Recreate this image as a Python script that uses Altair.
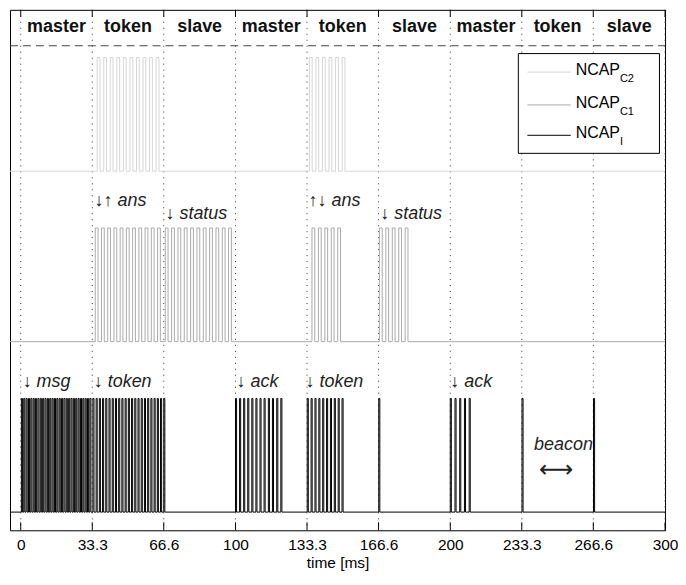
import altair as alt
import pandas as pd

# ---------------- data ----------------
TICKS = [0, 33.3, 66.6, 100, 133.3, 166.6, 200, 233.3, 266.6, 300]
PHASES = ["master", "token", "slave", "master", "token", "slave", "master", "token", "slave"]

SERIES = ["C2", "C1", "I"]
# pulse start times [ms]
NCAP_C2_PULSES = [35.6, 38.65, 41.7, 44.75, 47.8, 50.85, 53.9, 56.95, 60.0, 63.05,
                  134.4, 137.45, 140.5, 143.55, 146.6, 149.65]
NCAP_C1_PULSES = [34.7, 37.6, 40.5, 43.4, 46.3, 49.2, 52.1, 55.0, 57.9, 60.8, 63.7,
                  67.3, 70.25, 73.2, 76.15, 79.1, 82.05, 85.0, 87.95, 90.9, 93.85, 96.8,
                  135.6, 138.6, 141.6, 144.6, 147.6,
                  167.0, 170.0, 173.0, 176.0, 179.0]
NCAP_I_PULSES = [0.3, 1.4, 2.5, 3.6, 4.7, 5.8, 6.9, 8.0, 9.1, 10.2, 11.3, 12.4, 13.5, 14.6, 15.7,
                 16.8, 17.9, 19.0, 20.1, 21.2, 22.3, 23.4, 24.5, 25.6, 26.7, 27.8, 28.9, 30.0, 31.1, 32.2,
                 33.6, 35.1, 36.6, 38.1, 39.6, 41.1, 42.6, 44.1, 45.6, 47.1, 48.6, 50.1, 51.6, 53.1,
                 54.6, 56.1, 57.6, 59.1, 60.6, 62.1, 63.6, 65.1, 66.6,
                 100.0, 101.9, 103.8, 105.7, 107.6, 109.5, 111.4, 113.3, 115.3, 117.2, 119.2, 121.1,
                 133.4, 135.2, 137.0, 138.8, 140.6, 142.4, 144.2, 146.0, 147.8, 149.6,
                 166.7,
                 200.0, 202.2, 204.4, 206.6, 208.8,
                 233.4, 266.7]
PULSE_WIDTH = {"C2": 1.3, "C1": 1.3, "I": 0.5}
BASE_LEVEL = {"C2": 3.0, "C1": 1.5, "I": 0.0}
PULSES = {"C2": NCAP_C2_PULSES, "C1": NCAP_C1_PULSES, "I": NCAP_I_PULSES}

ANNOT_TEXT = ["↓ msg", "↓ token", "↓ ack", "↓ token", "↓ ack",
              "↓↑ ans", "↓ status", "↑↓ ans", "↓ status", "beacon"]
ANNOT_X = [0.9, 34.0, 100.5, 132.6, 200.0, 34.4, 67.4, 134.0, 167.4, 239.0]
ANNOT_Y = [1.148, 1.148, 1.148, 1.148, 1.148, 2.739, 2.626, 2.739, 2.626, 0.591]
BEACON_ARROW = "⟷"
BEACON_ARROW_X = 241.3
BEACON_ARROW_Y = 0.374

LEGEND_SUB = ["C2", "C1", "I"]
COLORS = ["#d6d6d6", "#ababab", "#000000"]

# ---------------- layout ----------------
XDOM = [-5, 300]
YDOM = [-0.16, 4.42]
W, H = 657, 522
FONT = "Liberation Sans, DejaVu Sans, sans-serif"
xs = alt.Scale(domain=XDOM, nice=False, zero=False)
ys = alt.Scale(domain=YDOM, nice=False, zero=False)

# build square-wave traces
rows = []
for s in SERIES:
    b, w = BASE_LEVEL[s], PULSE_WIDTH[s]
    i = 0
    rows.append({"s": s, "t": XDOM[0], "v": b, "i": i}); i += 1
    for p in PULSES[s]:
        for t, v in [(p, b), (p, b + 1), (p + w, b + 1), (p + w, b)]:
            rows.append({"s": s, "t": t, "v": v, "i": i}); i += 1
    rows.append({"s": s, "t": XDOM[1], "v": b, "i": i})
traces = pd.DataFrame(rows)

ticks_df = pd.DataFrame({"t": TICKS})
phase_df = pd.DataFrame({"label": PHASES,
                         "t": [(TICKS[k] + TICKS[k + 1]) / 2 for k in range(9)],
                         "y": [4.27] * 9})
annot_df = pd.DataFrame({"text": ANNOT_TEXT, "t": ANNOT_X, "y": ANNOT_Y})
arrow_df = pd.DataFrame({"text": [BEACON_ARROW], "t": [BEACON_ARROW_X], "y": [BEACON_ARROW_Y]})

color = alt.Color("s:N", scale=alt.Scale(domain=SERIES, range=COLORS), legend=None)

xaxis = alt.Axis(values=TICKS, labelExpr="'' + datum.value", ticks=False, domain=False,
                 grid=False, labelFont=FONT, labelFontSize=15.5, labelColor="black",
                 labelPadding=7, title="time [ms]", titleFont=FONT, titleFontSize=15.5,
                 titleFontWeight="normal", titleColor="black", titlePadding=3,
                 labelFlush=False)

grid = alt.Chart(ticks_df).mark_rule(color="#333", strokeWidth=1, strokeDash=[1, 5]).encode(
    x=alt.X("t:Q", scale=xs, axis=xaxis), y=alt.value(0), y2=alt.value(H))
top_ticks = alt.Chart(ticks_df).mark_rule(color="black", strokeWidth=1).encode(
    x=alt.X("t:Q", scale=xs), y=alt.value(0), y2=alt.value(7))
bot_ticks = alt.Chart(ticks_df).mark_rule(color="black", strokeWidth=1).encode(
    x=alt.X("t:Q", scale=xs), y=alt.value(H - 8), y2=alt.value(H))

dash = alt.Chart(pd.DataFrame({"y": [4.104]})).mark_rule(
    color="#444", strokeWidth=1, strokeDash=[8, 5]).encode(
    y=alt.Y("y:Q", scale=ys, axis=None), x=alt.value(0), x2=alt.value(W))

phase = alt.Chart(phase_df).mark_text(font=FONT, fontSize=18, fontWeight="bold",
                                      color="#111", baseline="middle").encode(
    x=alt.X("t:Q", scale=xs), y=alt.Y("y:Q", scale=ys, axis=None), text="label:N")

lines = alt.Chart(traces).mark_line(strokeWidth=1, interpolate="linear").encode(
    x=alt.X("t:Q", scale=xs),
    y=alt.Y("v:Q", scale=ys, axis=None),
    color=color, detail="s:N", order=alt.Order("i:Q"))

annot = alt.Chart(annot_df).mark_text(font=FONT, fontSize=18, fontStyle="italic", color="#222",
                                      align="left", baseline="middle").encode(
    x=alt.X("t:Q", scale=xs), y=alt.Y("y:Q", scale=ys, axis=None), text="text:N")
arrow = alt.Chart(arrow_df).mark_text(font=FONT, fontSize=24, color="#222",
                                      align="left", baseline="middle").encode(
    x=alt.X("t:Q", scale=xs), y=alt.Y("y:Q", scale=ys, axis=None), text="text:N")

# legend box
leg_box = alt.Chart(pd.DataFrame({"x": [231.7], "x2": [297.4], "y": [3.157], "y2": [4.035]})).mark_rect(
    fill="white", stroke="black", strokeWidth=1).encode(
    x=alt.X("x:Q", scale=xs), x2="x2:Q", y=alt.Y("y:Q", scale=ys, axis=None), y2="y2:Q")
leg_df = pd.DataFrame({"s": SERIES, "sub": LEGEND_SUB, "name": ["NCAP"] * 3,
                       "y": [3.872, 3.583, 3.316],
                       "x1": [235.9] * 3, "x2": [256.1] * 3, "tx": [258.4] * 3, "sx": [279.0] * 3})
leg_lines = alt.Chart(leg_df).mark_rule(strokeWidth=1).encode(
    x=alt.X("x1:Q", scale=xs), x2="x2:Q", y=alt.Y("y:Q", scale=ys, axis=None), color=color)
leg_text = alt.Chart(leg_df).mark_text(font=FONT, fontSize=16, color="black", align="left",
                                       baseline="middle", dy=-2).encode(
    x=alt.X("tx:Q", scale=xs), y=alt.Y("y:Q", scale=ys, axis=None), text="name:N")
leg_sub = alt.Chart(leg_df).mark_text(font=FONT, fontSize=11, color="black", align="left",
                                      baseline="middle", dy=7).encode(
    x=alt.X("sx:Q", scale=xs), y=alt.Y("y:Q", scale=ys, axis=None), text="sub:N")

chart = alt.layer(grid, top_ticks, bot_ticks, dash, phase, lines, annot, arrow,
                  leg_box, leg_lines, leg_text, leg_sub).properties(
    width=W, height=H, padding=0).configure_view(stroke="black", strokeWidth=1)

chart.save("out.html", embed_options={"renderer": "svg", "actions": False})
